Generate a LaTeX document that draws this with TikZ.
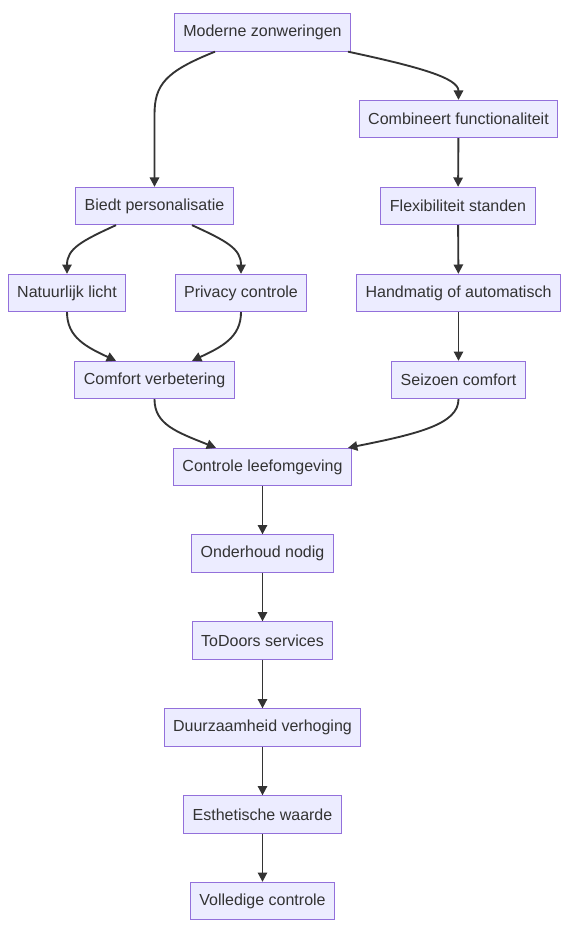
\documentclass[tikz,border=0pt]{standalone}
\usepackage{fontspec}
\setmainfont{Liberation Sans}
\usetikzlibrary{arrows.meta,calc}
\definecolor{boxfill}{HTML}{ECECFF}
\definecolor{boxline}{HTML}{9370DB}
\definecolor{ink}{HTML}{333333}
\begin{document}
\begin{tikzpicture}[x=0.75pt,y=-0.75pt,
    box/.style={draw=boxline,fill=boxfill,line width=0.75pt,text=ink,font=\fontsize{12pt}{14pt}\selectfont,
        minimum height=28pt,inner xsep=6.8pt},
    arr/.style={draw=ink,line width=1.4pt,-{Triangle[length=7pt,width=7pt]}}]
    \useasboundingbox (0,0) rectangle (576,934);
    %nodi colonna sinistra e centrale
    \node[box](mz) at (262.5,32.5){Moderne zonweringen};
    \node[box](bp) at (154.5,206){Biedt personalisatie};
    \node[box](nl) at (67,293){Natuurlijk licht};
    \node[box](pc) at (241,293){Privacy controle};
    \node[box](cv) at (154.5,380){Comfort verbetering};
    %nodi colonna destra
    \node[box](cf) at (458.5,119){Combineert functionaliteit};
    \node[box](fs) at (458,206){Flexibiliteit standen};
    \node[box](hm) at (458.5,293){Handmatig of automatisch};
    \node[box](sc) at (458.5,380){Seizoen comfort};
    %catena finale
    \node[box](cl) at (262.5,467){Controle leefomgeving};
    \node[box](on) at (262.5,553.5){Onderhoud nodig};
    \node[box](td) at (262.5,640.5){ToDoors services};
    \node[box](dv) at (262.5,727.5){Duurzaamheid verhoging};
    \node[box](ew) at (262.5,814.5){Esthetische waarde};
    \node[box](vc) at (262.5,901){Volledige controle};
    %archi curvi
    \draw[arr]($(mz.south)+(-47.5,0)$) .. controls +(-50,20) and +(0,-30) .. ($(bp.north)+(0,-72)$) -- (bp.north);
    \draw[arr]($(mz.south)+(85.5,0)$) .. controls +(70,15) and +(0,-22) .. (cf.north);
    \draw[arr]($(bp.south)+(-38.5,0)$) .. controls +(-35,16) and +(0,-25) .. (nl.north);
    \draw[arr]($(bp.south)+(37.5,0)$) .. controls +(35,16) and +(0,-25) .. (pc.north);
    \draw[arr](nl.south) .. controls +(0,25) and +(-30,-14) .. ($(cv.north)+(-38.5,0)$);
    \draw[arr](pc.south) .. controls +(0,25) and +(30,-14) .. ($(cv.north)+(37.5,0)$);
    \draw[arr](cv.south) .. controls +(0,25) and +(-40,-16) .. ($(cl.north)+(-46.5,0)$);
    \draw[arr](sc.south) .. controls +(0,25) and +(70,-14) .. ($(cl.north)+(85.5,0)$);
    %archi dritti
    \draw[arr](cf)--(fs);
    \draw[arr](fs)--(hm);
    \draw[arr](hm)--(sc);
    \draw[arr](cl)--(on);
    \draw[arr](on)--(td);
    \draw[arr](td)--(dv);
    \draw[arr](dv)--(ew);
    \draw[arr](ew)--(vc);
\end{tikzpicture}
\end{document}
